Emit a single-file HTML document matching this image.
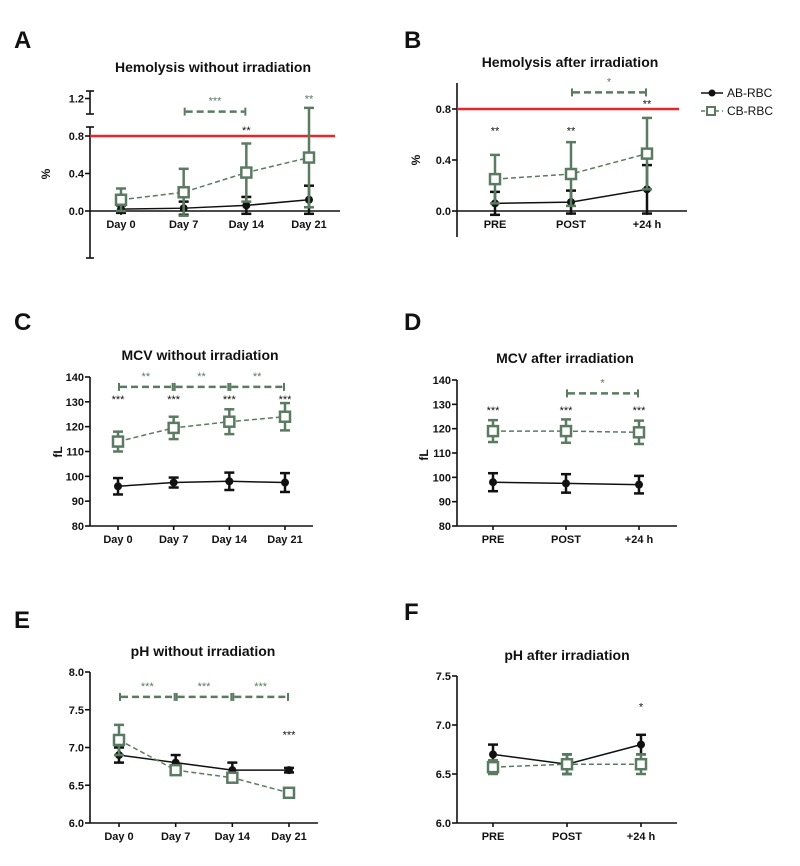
<!DOCTYPE html>
<html><head><meta charset="utf-8">
<style>
body{margin:0;background:#fff;width:800px;height:866px;overflow:hidden}
svg{display:block;font-family:"Liberation Sans",Arial,sans-serif}
</style></head>
<body>
<svg id="fig" width="800" height="866" viewBox="0 0 800 866"></svg>
<script>
// ---- data ----
const catsDays = ["Day 0","Day 7","Day 14","Day 21"];
const catsIrr = ["PRE","POST","+24 h"];
// A
const aAB = [0.02,0.03,0.06,0.12];
const aABsd = [0.04,0.07,0.09,0.15];
const aCB = [0.12,0.20,0.41,0.57];
const aCBsd = [0.12,0.25,0.31,0.53];
const aTicks = [0.0,0.4,0.8,1.2];
// B
const bAB = [0.06,0.07,0.17];
const bABsd = [0.09,0.09,0.19];
const bCB = [0.25,0.29,0.45];
const bCBsd = [0.19,0.25,0.28];
const bTicks = [0.0,0.4,0.8];
// C
const cAB = [96,97.5,98,97.5];
const cABsd = [3.3,2,3.5,3.8];
const cCB = [114,119.5,122,124];
const cCBsd = [4,4.5,5,5.5];
const mcvTicks = [80,90,100,110,120,130,140];
// D
const dAB = [98,97.5,97];
const dABsd = [3.7,3.8,3.6];
const dCB = [119,119,118.5];
const dCBsd = [4.5,4.8,4.8];
// E
const eAB = [6.9,6.8,6.7,6.7];
const eABsd = [0.1,0.1,0.1,0.03];
const eCB = [7.1,6.7,6.6,6.4];
const eCBsd = [0.2,0.03,0.03,0.06];
const eTicks = [6.0,6.5,7.0,7.5,8.0];
// F
const fAB = [6.7,6.6,6.8];
const fABsd = [0.1,0.1,0.1];
const fCB = [6.57,6.6,6.6];
const fCBsd = [0.07,0.1,0.1];
const fTicks = [6.0,6.5,7.0,7.5];

const GREEN = "#5b7a62", RED = "#e8262a";
const svg = document.getElementById('fig');
const NS = "http://www.w3.org/2000/svg";
function mk(tag, attrs, parent){
  const e = document.createElementNS(NS, tag);
  for (const k in attrs) e.setAttribute(k, attrs[k]);
  (parent||svg).appendChild(e);
  return e;
}
function txt(s, x, y, size, anchor, fill, weight, parent){
  const t = mk('text', {x:x, y:y, 'font-size':size, 'text-anchor':anchor||'middle', fill:fill||'#111', 'font-weight':weight||'bold'}, parent);
  t.textContent = s;
  return t;
}

function panel(p){
  const g = mk('g', {});
  
  
  const yv = v => p.y0 - (v - p.v0) * (p.y0 - p.y1) / (p.v1 - p.v0);
  const xc = i => p.xFirst + i * (p.xLast - p.xFirst) / (p.cats.length - 1);
  // letter + title
  const L = txt(p.letter, p.lx, p.ly, 24, 'start', '#111', 'bold', g);
  
  
  const T = txt(p.title, p.tx, p.ty, 14, 'middle', '#111', 'bold', g);
  
  
  // axes
  const ax = mk('g', {stroke:'#111', 'stroke-width':1.6, fill:'none'}, g);
  
  
  p.ySegs.forEach(s => {
    mk('line', {x1:p.ax, y1:s[0], x2:p.ax, y2:s[1]}, ax);
    if (p.breakCaps) { mk('line',{x1:p.ax-4,y1:s[0],x2:p.ax+4,y2:s[0]},ax); mk('line',{x1:p.ax-4,y1:s[1],x2:p.ax+4,y2:s[1]},ax); }
  });
  const xy = p.xAxisY !== undefined ? p.xAxisY : yv(p.v0);
  mk('line', {x1:p.ax, y1:xy, x2:p.axEnd, y2:xy}, ax);
  p.cats.forEach((c,i) => {
    mk('line', {x1:xc(i), y1:xy, x2:xc(i), y2:xy+4}, ax);
    const t = txt(c, xc(i), xy+17, 11, 'middle', '#111', 'bold', g);
    
    
  });
  p.ticks.forEach(v => {
    mk('line', {x1:p.ax-5, y1:yv(v), x2:p.ax, y2:yv(v)}, ax);
    const t = txt(v.toFixed(p.dec), p.ax-6, yv(v)+4, 11, 'end', '#111', 'bold', g);
    
    
  });
  const yt = txt(p.ylabel, 0, 0, 12, 'middle', '#111', 'bold', g);
  yt.setAttribute('transform', `translate(${p.ylx},${p.yly}) rotate(-90)`);
  
  
  // red reference line
  if (p.redLine !== undefined) {
    const r = mk('line', {x1:p.ax, y1:yv(p.redLine), x2:p.redEnd, y2:yv(p.redLine), stroke:RED, 'stroke-width':2.5}, g);
    
    
  }
  // series
  function series(vals, sds, color, dashed, square, name){
    const sg = mk('g', {}, g);
    
    
    const pts = vals.map((v,i) => xc(i) + ',' + yv(v)).join(' ');
    mk('polyline', {points:pts, fill:'none', stroke:color, 'stroke-width':1.5, 'stroke-dasharray': dashed ? '5,3' : 'none'}, sg);
    vals.forEach((v,i) => {
      const x = xc(i), hi = yv(v + sds[i]), lo = yv(v - sds[i]);
      const eb = mk('g', {stroke:color, 'stroke-width':2.5}, sg);
      
      
      mk('line', {x1:x, y1:hi, x2:x, y2:lo}, eb);
      mk('line', {x1:x-5, y1:hi, x2:x+5, y2:hi}, eb);
      mk('line', {x1:x-5, y1:lo, x2:x+5, y2:lo}, eb);
      let m;
      if (square) m = mk('rect', {x:x-5, y:yv(v)-5, width:10, height:10, fill:'#fff', stroke:color, 'stroke-width':2.5}, sg);
      else m = mk('circle', {cx:x, cy:yv(v), r:4, fill:color}, sg);
      
      
    });
  }
  series(p.ab, p.absd, '#111', false, false, 'ab-rbc');
  series(p.cb, p.cbsd, GREEN, true, true, 'cb-rbc');
  // brackets
  (p.brackets||[]).forEach(b => {
    const bg = mk('g', {}, g);
    
    
    const x1 = xc(b[0]), x2 = xc(b[1]), y = yv(b[2]);
    mk('line', {x1:x1+2, y1:y, x2:x2-2, y2:y, stroke:GREEN, 'stroke-width':2.5, 'stroke-dasharray':'7,4'}, bg);
    mk('line', {x1:x1+1, y1:y-4, x2:x1+1, y2:y+4, stroke:GREEN, 'stroke-width':2}, bg);
    mk('line', {x1:x2-1, y1:y-4, x2:x2-1, y2:y+4, stroke:GREEN, 'stroke-width':2}, bg);
    txt(b[3], (x1+x2)/2, y-7, 11, 'middle', GREEN, 'normal', bg);
  });
  (p.stars||[]).forEach(s => {
    const t = txt(s[2], xc(s[0]), yv(s[1]), 11, 'middle', s[3]||'#111', 'normal', g);
    
    
  });
}

panel({id:'a', letter:'A', lx:14, ly:48, title:'Hemolysis without irradiation', tx:213, ty:72,
  cats:catsDays, xFirst:121, xLast:309, ax:90, axEnd:340, v0:0, v1:0.8, y0:211, y1:136,
  ySegs:[[91,114],[127,258]], breakCaps:true, ticks:aTicks, dec:1, ylabel:'%', ylx:50, yly:174,
  redLine:0.8, redEnd:335, ab:aAB, absd:aABsd, cb:aCB, cbsd:aCBsd,
  brackets:[[1,2,1.06,'***']], stars:[[3,1.16,'**',GREEN],[2,0.82,'**']]});

panel({id:'b', letter:'B', lx:404, ly:48, title:'Hemolysis after irradiation', tx:570, ty:67,
  cats:catsIrr, xFirst:495, xLast:647, ax:457, axEnd:687, v0:0, v1:0.8, y0:211, y1:109,
  ySegs:[[83,237]], xAxisY:211, ticks:bTicks, dec:1, ylabel:'%', ylx:420, yly:160,
  redLine:0.8, redEnd:679, ab:bAB, absd:bABsd, cb:bCB, cbsd:bCBsd,
  brackets:[[1,2,0.93,'*']], stars:[[0,0.6,'**'],[1,0.6,'**'],[2,0.81,'**']]});

panel({id:'c', letter:'C', lx:14, ly:330, title:'MCV without irradiation', tx:200, ty:360,
  cats:catsDays, xFirst:118, xLast:285, ax:90, axEnd:313, v0:80, v1:140, y0:526, y1:377,
  ySegs:[[377,526]], ticks:mcvTicks, dec:0, ylabel:'fL', ylx:62, yly:452,
  ab:cAB, absd:cABsd, cb:cCB, cbsd:cCBsd,
  brackets:[[0,1,136,'**'],[1,2,136,'**'],[2,3,136,'**']],
  stars:[[0,129.5,'***'],[1,129.5,'***'],[2,129.5,'***'],[3,129.5,'***']]});

panel({id:'d', letter:'D', lx:404, ly:330, title:'MCV after irradiation', tx:565, ty:363,
  cats:catsIrr, xFirst:493, xLast:639, ax:457, axEnd:677, v0:80, v1:140, y0:526, y1:380,
  ySegs:[[380,526]], ticks:mcvTicks, dec:0, ylabel:'fL', ylx:428, yly:455,
  ab:dAB, absd:dABsd, cb:dCB, cbsd:dCBsd,
  brackets:[[1,2,134.5,'*']],
  stars:[[0,126,'***'],[1,126,'***'],[2,126,'***']]});

panel({id:'e', letter:'E', lx:14, ly:628, title:'pH without irradiation', tx:203, ty:656,
  cats:catsDays, xFirst:119, xLast:289, ax:90, axEnd:318, v0:6.0, v1:8.0, y0:823, y1:672,
  ySegs:[[672,823]], ticks:eTicks, dec:1, ylabel:'', ylx:60, yly:748,
  ab:eAB, absd:eABsd, cb:eCB, cbsd:eCBsd,
  brackets:[[0,1,7.67,'***'],[1,2,7.67,'***'],[2,3,7.67,'***']],
  stars:[[3,7.12,'***']]});

panel({id:'f', letter:'F', lx:404, ly:620, title:'pH after irradiation', tx:567, ty:660,
  cats:catsIrr, xFirst:493, xLast:641, ax:457, axEnd:677, v0:6.0, v1:7.5, y0:823, y1:676,
  ySegs:[[676,823]], ticks:fTicks, dec:1, ylabel:'', ylx:430, yly:750,
  ab:fAB, absd:fABsd, cb:fCB, cbsd:fCBsd,
  stars:[[2,7.15,'*']]});

// legend
const lg = mk('g', {});


const l1 = mk('g', {}, lg);


mk('line', {x1:701, y1:93, x2:723, y2:93, stroke:'#111', 'stroke-width':1.6}, l1);
mk('circle', {cx:712, cy:93, r:3.5, fill:'#111'}, l1);
txt('AB-RBC', 727, 97, 12, 'start', '#111', 'normal', l1);
const l2 = mk('g', {}, lg);


mk('line', {x1:701, y1:111, x2:723, y2:111, stroke:GREEN, 'stroke-width':1.6, 'stroke-dasharray':'4,3'}, l2);
mk('rect', {x:707, y:107, width:8, height:8, fill:'#fff', stroke:GREEN, 'stroke-width':2}, l2);
txt('CB-RBC', 727, 115, 12, 'start', '#111', 'normal', l2);
</script>
</body></html>
